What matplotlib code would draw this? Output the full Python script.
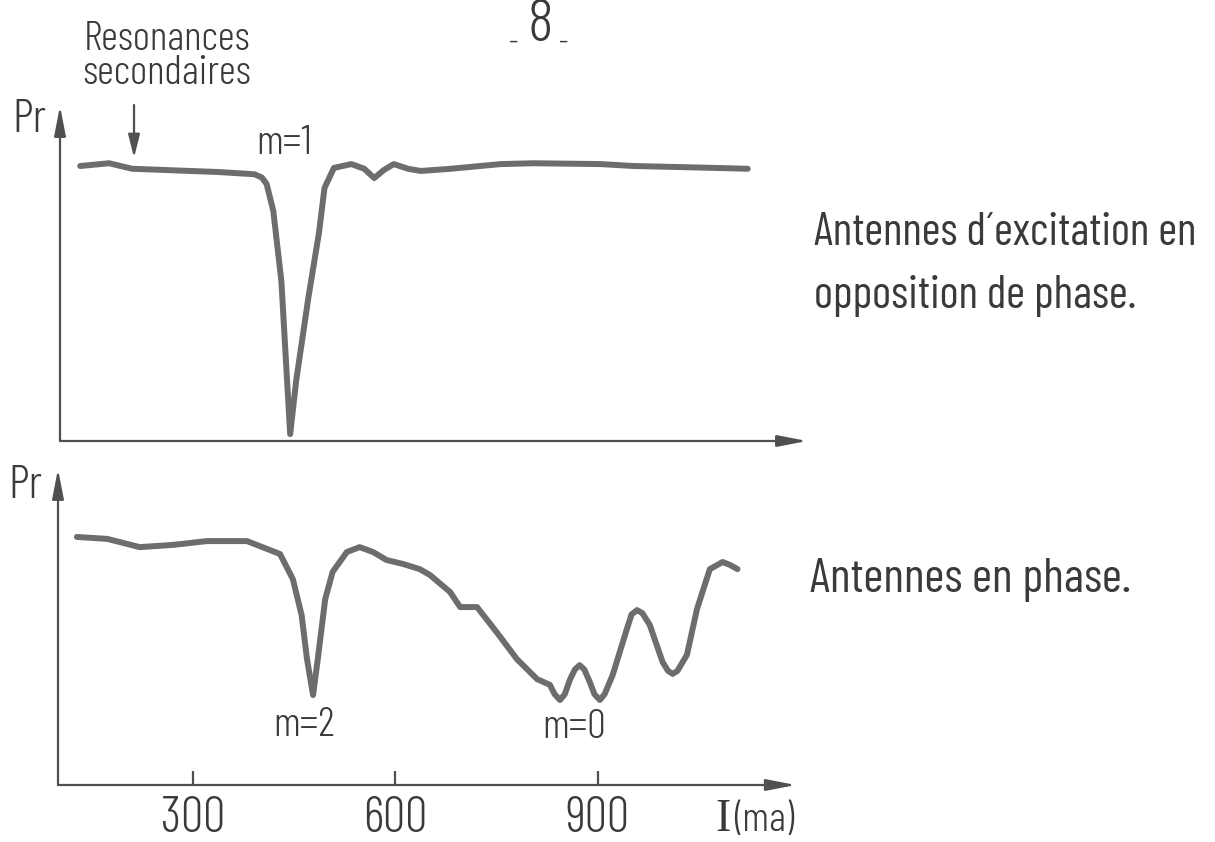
import matplotlib.pyplot as plt

# Pr traces (I in mA, Pr in arbitrary units)
i_top = [130, 173, 207, 261, 336, 389, 400, 407, 417, 429, 436, 442, 451, 469,
         485, 493, 507, 533, 552, 567, 581, 596, 617, 636, 681, 755, 804, 903,
         952, 1040, 1122]
pr_top = [1.00, 1.01, 0.99, 0.985, 0.978, 0.97, 0.958, 0.935, 0.836, 0.58, 0.28,
          0.025, 0.22, 0.52, 0.76, 0.92, 0.993, 1.007, 0.99, 0.956, 0.985,
          1.007, 0.99, 0.982, 0.99, 1.007, 1.01, 1.007, 1.0, 0.995, 0.99]

i_bot = [128, 173, 221, 270, 321, 380, 429, 448, 461, 469, 478, 485, 496, 507,
         528, 547, 567, 587, 611, 636, 651, 681, 696, 721, 750, 780, 810, 829,
         836, 844, 851, 859, 866, 873, 880, 888, 895, 903, 910, 922, 943, 950,
         958, 966, 977, 996, 1004, 1011, 1018, 1032, 1047, 1066, 1085, 1096,
         1107]
pr_bot = [0.902, 0.895, 0.865, 0.873, 0.887, 0.887, 0.84, 0.749, 0.618, 0.458,
          0.327, 0.458, 0.676, 0.775, 0.847, 0.865, 0.847, 0.818, 0.804, 0.785,
          0.764, 0.702, 0.647, 0.647, 0.556, 0.458, 0.385, 0.364, 0.33, 0.309,
          0.33, 0.385, 0.42, 0.436, 0.42, 0.375, 0.33, 0.309, 0.33, 0.4, 0.567,
          0.62, 0.636, 0.625, 0.582, 0.447, 0.415, 0.404, 0.415, 0.473, 0.64,
          0.785, 0.811, 0.80, 0.785]

ticks = [300, 600, 900]
tick_labels = ["300", "600", "900"]

W, H = 1215, 842
INK = "#3a3a3a"
CURVE = "#6d6d6d"
AXIS = "#505050"
FONT = ["Barlow Condensed", "Roboto Condensed", "Liberation Sans", "DejaVu Sans"]
plt.rcParams["font.family"] = FONT
plt.rcParams["font.weight"] = 300


def fpos(x, y):
    # figure fraction from pixel position measured from the top-left
    return x / W, 1 - y / H


fig = plt.figure(figsize=(W / 100, H / 100), dpi=100)
ax1 = fig.add_axes([60 / W, 1 - 441 / H, 747 / W, 335 / H])
ax2 = fig.add_axes([58 / W, 1 - 785 / H, 749 / W, 316 / H])
ax1.set_ylim(0, 335 / 275)
ax2.set_ylim(0, 316 / 275)

for ax, xend in ((ax1, 1.0), (ax2, 0.985)):
    ax.set_xlim(100, 1210)
    for s in ax.spines.values():
        s.set_visible(False)
    ax.set_yticks([])
    arrow = dict(arrowstyle="-|>,head_length=1.8,head_width=0.35", lw=1.6,
                 color=AXIS, shrinkA=0, shrinkB=0)
    ax.annotate("", xy=(xend, 0), xytext=(0, 0), xycoords="axes fraction",
                arrowprops=arrow, annotation_clip=False)
    ax.annotate("", xy=(0, 1), xytext=(0, 0), xycoords="axes fraction",
                arrowprops=arrow, annotation_clip=False)

ax1.set_xticks([])
ax2.set_xticks(ticks, tick_labels)
ax2.tick_params(axis="x", direction="in", length=10, width=1.6, colors=AXIS,
                labelcolor=INK, labelsize=36, pad=8)

ax1.plot(i_top, pr_top, color=CURVE, lw=4.3, solid_capstyle="round",
         solid_joinstyle="round", zorder=3)
ax2.plot(i_bot, pr_bot, color=CURVE, lw=4.3, solid_capstyle="round",
         solid_joinstyle="round", zorder=3)

# pointer to the secondary resonances
ax1.annotate("", xy=(210, 1.03), xytext=(0, 38), textcoords="offset points",
             arrowprops=dict(arrowstyle="-|>,head_length=1.4,head_width=0.35",
                             lw=1.6, color=AXIS, shrinkA=0, shrinkB=0))

fig.text(*fpos(167, 40), "Resonances", fontsize=30, color=INK,
         ha="center", va="center")
fig.text(*fpos(166, 74), "secondaires", fontsize=30, color=INK,
         ha="center", va="center")

fig.text(*fpos(540, 26), "8", fontsize=44, color=INK, ha="center", va="center")
fig.text(*fpos(514, 43), "-", fontsize=22, color=INK, ha="center", va="center")
fig.text(*fpos(564, 43), "-", fontsize=22, color=INK, ha="center", va="center")

fig.text(*fpos(12, 120), "Pr", fontsize=34, color=INK, ha="left", va="center")
fig.text(*fpos(8, 486), "Pr", fontsize=34, color=INK, ha="left", va="center")

fig.text(*fpos(284, 144), "m=1", fontsize=30, color=INK, ha="center", va="center")
fig.text(*fpos(304, 726), "m=2", fontsize=30, color=INK, ha="center", va="center")
fig.text(*fpos(574, 727), "m=0", fontsize=30, color=INK, ha="center", va="center")

fig.text(*fpos(715, 831), "I", fontsize=33, color=INK, ha="left",
         va="baseline", family="Liberation Serif", weight="normal")
fig.text(*fpos(734, 831), "(ma)", fontsize=30, color=INK, ha="left",
         va="baseline")

fig.text(*fpos(814, 245), "Antennes d´excitation en", fontsize=33, color=INK,
         ha="left", va="baseline", weight=400)
fig.text(*fpos(814, 308), "opposition de phase.", fontsize=33, color=INK,
         ha="left", va="baseline", weight=400)
fig.text(*fpos(810, 592), "Antennes en phase.", fontsize=35, color=INK,
         ha="left", va="baseline", weight=400)

fig.savefig("out.png", dpi=100, facecolor="white")
